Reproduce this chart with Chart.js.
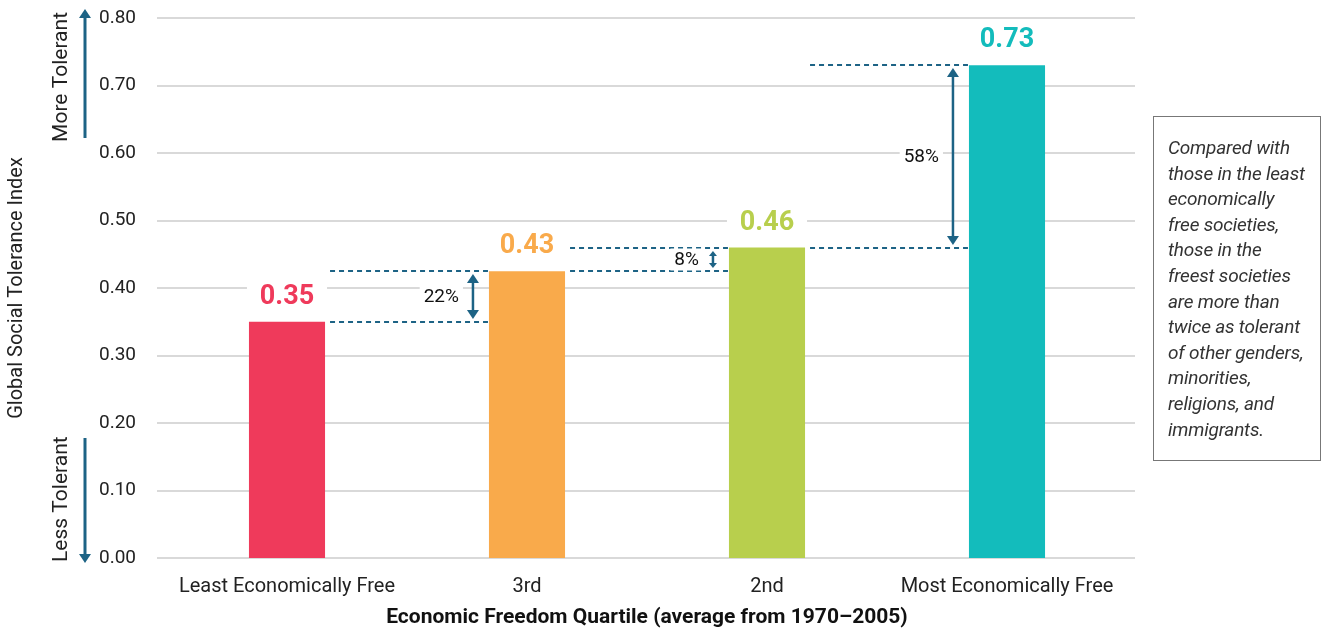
<!DOCTYPE html>
<html>
<head>
<meta charset="utf-8">
<script src="https://cdn.jsdelivr.net/npm/chart.js@4"></script>
<style>
  body { margin: 0; background: #fff; }
  #wrap { position: relative; width: 1327px; height: 633px; }
  #note {
    position: absolute; left: 1153px; top: 116px; width: 168px; height: 345px;
    border: 1px solid #777; box-sizing: border-box;
    font: italic 19px Roboto, sans-serif; color: #333; letter-spacing: -0.2px;
    line-height: 25.6px; padding: 18px 0 0 14px; white-space: nowrap;
  }
</style>
</head>
<body>
<div id="wrap">
  <canvas id="toleranceChart" width="1327" height="633"></canvas>
  <div id="note">Compared with<br>those in the least<br>economically<br>free societies,<br>those in the<br>freest societies<br>are more than<br>twice as tolerant<br>of other genders,<br>minorities,<br>religions, and<br>immigrants.</div>
</div>
<script>
const categories = ["Least Economically Free", "3rd", "2nd", "Most Economically Free"];
const values = [0.35, 0.425, 0.46, 0.73];
const valueLabels = ["0.35", "0.43", "0.46", "0.73"];
const barColors = ["#ef3a5b", "#f9aa4b", "#b8cf4d", "#13bcbc"];
const gapLabels = ["22%", "8%", "58%"];
const yMin = 0, yMax = 0.8, yStep = 0.1;

const accent = "#1d6385";
const font = "Roboto, sans-serif";

// === gridlines, drawn a bit wider than the chart area ===
const gridPlugin = {
  id: "gridPlugin",
  beforeDatasetsDraw(chart) {
    const { ctx, chartArea, scales: { y } } = chart;
    ctx.save();
    ctx.strokeStyle = "#d9d9d9";
    ctx.lineWidth = 2;
    y.ticks.forEach((t) => {
      const py = Math.round(y.getPixelForValue(t.value));
      ctx.beginPath();
      ctx.moveTo(chartArea.left - 10, py);
      ctx.lineTo(chartArea.right + 8, py);
      ctx.stroke();
    });
    ctx.restore();
  },
};

function arrowHead(ctx, x, y, dir, hw, h) {
  ctx.beginPath();
  ctx.moveTo(x, y);
  ctx.lineTo(x - hw, y - dir * h);
  ctx.lineTo(x + hw, y - dir * h);
  ctx.closePath();
  ctx.fill();
}

// === value labels, gap annotations, tolerance arrows ===
const annotatePlugin = {
  id: "annotatePlugin",
  afterDatasetsDraw(chart) {
    const { ctx, chartArea, scales: { y } } = chart;
    const bars = chart.getDatasetMeta(0).data;
    ctx.save();

    // value labels with white backing
    ctx.font = "bold 27px " + font;
    ctx.textAlign = "center";
    ctx.textBaseline = "alphabetic";
    bars.forEach((bar, i) => {
      const w = bar.width;
      ctx.fillStyle = "#fff";
      ctx.fillRect(bar.x - w / 2 - 2, bar.y - 42, w + 4, 28);
      ctx.fillStyle = barColors[i];
      ctx.fillText(valueLabels[i], bar.x, bar.y - 18);
    });

    // gap annotations between neighbouring bars
    gapLabels.forEach((lab, i) => {
      const a = bars[i], b = bars[i + 1];
      const x0 = a.x + a.width / 2 + 5;
      const x1 = b.x - b.width / 2 - 1;
      const yLo = Math.round(y.getPixelForValue(values[i]));
      const yHi = Math.round(y.getPixelForValue(values[i + 1]));
      ctx.strokeStyle = accent;
      ctx.lineWidth = 2;
      ctx.setLineDash([5, 4]);
      [yLo, yHi].forEach((py) => {
        ctx.beginPath();
        ctx.moveTo(x0, py);
        ctx.lineTo(x1, py);
        ctx.stroke();
      });
      ctx.setLineDash([]);
      const ax = b.x - b.width / 2 - 16;
      const small = yLo - yHi < 30;
      const hh = small ? 5 : 9, hw = small ? 4 : 6;
      ctx.lineWidth = 2.5;
      ctx.beginPath();
      ctx.moveTo(ax, yHi + 3 + hh - 1);
      ctx.lineTo(ax, yLo - 3 - hh + 1);
      ctx.stroke();
      ctx.fillStyle = accent;
      arrowHead(ctx, ax, yHi + 3, -1, hw, hh);
      arrowHead(ctx, ax, yLo - 3, 1, hw, hh);

      ctx.font = "19px " + font;
      const tw = ctx.measureText(lab).width;
      const ly = (yLo + yHi) / 2;
      const lx = ax - 14;
      ctx.fillStyle = "#fff";
      ctx.fillRect(lx - tw - 4, ly - 11, tw + 8, 22);
      ctx.fillStyle = "#111";
      ctx.textAlign = "right";
      ctx.textBaseline = "middle";
      ctx.fillText(lab, lx, ly + 1);
    });

    // More / Less tolerant arrows
    const axX = 85;
    const top = chartArea.top, bottom = chartArea.bottom;
    ctx.strokeStyle = accent;
    ctx.fillStyle = accent;
    ctx.lineWidth = 3;
    ctx.beginPath();
    ctx.moveTo(axX, top + 120);
    ctx.lineTo(axX, top - 2);
    ctx.stroke();
    arrowHead(ctx, axX, top - 9, -1, 6, 9);
    ctx.beginPath();
    ctx.moveTo(axX, bottom - 120);
    ctx.lineTo(axX, bottom - 2);
    ctx.stroke();
    arrowHead(ctx, axX, bottom + 5, 1, 6, 9);

    ctx.fillStyle = "#222";
    ctx.font = "21px " + font;
    ctx.textBaseline = "middle";
    ctx.save();
    ctx.translate(62, top - 6);
    ctx.rotate(-Math.PI / 2);
    ctx.textAlign = "right";
    ctx.fillText("More Tolerant", 0, 0);
    ctx.restore();
    ctx.save();
    ctx.translate(62, bottom + 4);
    ctx.rotate(-Math.PI / 2);
    ctx.textAlign = "left";
    ctx.fillText("Less Tolerant", 0, 0);
    ctx.restore();

    ctx.restore();
  },
};

const ctx = document.getElementById("toleranceChart").getContext("2d");
new Chart(ctx, {
  type: "bar",
  data: {
    labels: categories,
    datasets: [
      {
        data: values,
        backgroundColor: barColors,
        categoryPercentage: 1,
        barPercentage: 0.317,
        borderWidth: 0,
      },
    ],
  },
  options: {
    responsive: false,
    animation: false,
    layout: { padding: { top: 18, right: 200, bottom: 0, left: 0 } },
    plugins: { legend: { display: false }, tooltip: { enabled: false } },
    scales: {
      y: {
        min: yMin,
        max: yMax,
        afterFit: (s) => { s.width = 167; s.paddingTop = 0; s.paddingBottom = 0; },
        ticks: {
          stepSize: yStep,
          padding: 23,
          color: "#222",
          font: { family: font, size: 19 },
          callback: (v) => v.toFixed(2),
        },
        grid: { display: false },
        border: { display: false },
        title: {
          display: true,
          text: "Global Social Tolerance Index",
          color: "#222",
          font: { family: font, size: 20 },
          padding: { top: 5, bottom: 0 },
        },
      },
      x: {
        afterFit: (s) => { s.height = 75; },
        ticks: {
          padding: 9,
          color: "#222",
          font: { family: font, size: 20 },
        },
        grid: { display: false },
        border: { display: false },
        title: {
          display: true,
          text: "Economic Freedom Quartile (average from 1970–2005)",
          color: "#111",
          font: { family: font, size: 21, weight: "bold" },
          padding: { top: 0, bottom: 3 },
        },
      },
    },
  },
  plugins: [gridPlugin, annotatePlugin],
});
</script>
</body>
</html>
